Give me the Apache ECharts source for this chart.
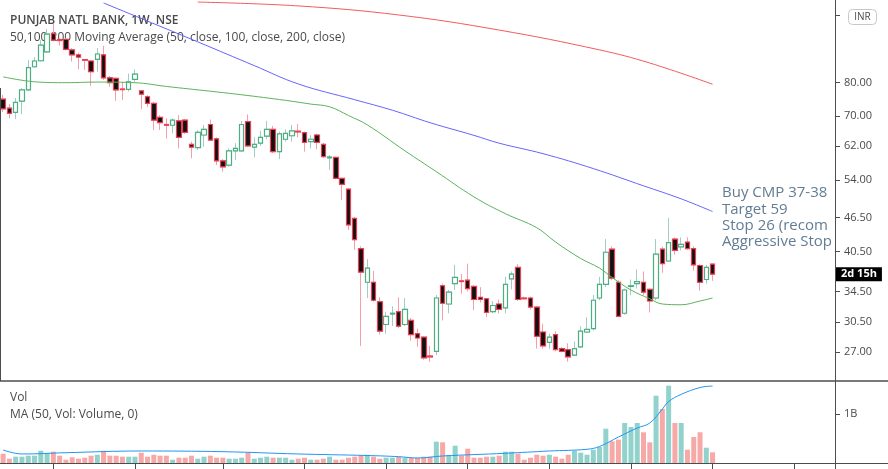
<!DOCTYPE html>
<html>
<head>
<meta charset="utf-8">
<title>PUNJAB NATL BANK, 1W, NSE</title>
<script src="https://cdn.jsdelivr.net/npm/echarts@6/dist/echarts.min.js"></script>
<style>
  html, body { margin: 0; padding: 0; background: #fff; }
  #chart { width: 888px; height: 469px; }
</style>
</head>
<body>
<div id="chart"></div>
<script>
// weekly bars, the first one is the week of 4 Feb 2019
const startWeek = '2019-02-04';
const totalSlots = 133; // bars plus the empty space on the right

// [open, close, low, high]
const candles = [
  [74.9,72.0,71.1,76.1],[72.2,70.7,69.3,73.4],[71.0,73.9,69.1,75.2],[74.3,77.7,70.5,78.3],[77.7,85.0,77.4,87.7],
  [85.3,87.3,85.0,88.7],[87.4,93.1,87.1,95.0],[90.6,97.3,90.2,99.3],[97.5,95.0,94.5,101.3],[95.2,94.8,92.9,95.8],
  [95.3,91.5,91.0,95.8],[91.3,89.5,87.1,92.0],[89.5,88.7,84.4,90.3],[87.8,87.6,84.2,88.0],[87.3,83.6,79.0,87.7],
  [87.9,89.8,83.6,92.0],[89.5,81.6,80.9,92.8],[81.6,80.0,78.7,82.2],[81.4,77.7,74.4,81.7],[78.0,77.8,74.6,80.3],
  [77.9,80.3,77.2,83.0],[81.1,82.8,80.3,84.4],[77.4,76.4,71.9,77.7],[75.6,73.6,72.5,76.1],[73.6,68.8,66.1,74.1],
  [69.6,68.1,66.1,70.2],[67.6,67.4,63.9,69.3],[67.4,68.8,65.2,69.3],[68.6,64.2,61.4,70.2],[68.8,65.5,65.1,69.1],
  [62.4,61.7,59.0,63.1],[61.6,65.5,61.0,66.1],[64.8,66.3,61.8,67.5],[67.6,63.5,63.3,69.0],[63.8,58.4,57.4,64.2],
  [58.4,57.0,55.9,58.8],[57.4,60.8,57.0,61.4],[60.8,61.4,58.6,62.7],[60.8,67.6,60.6,68.6],[68.4,62.0,61.7,70.4],
  [61.7,62.4,59.2,64.2],[62.7,64.2,62.0,65.9],[64.5,66.3,63.7,68.6],[66.3,60.6,60.2,67.2],[60.6,65.1,58.8,65.7],
  [63.7,65.2,63.1,66.3],[64.6,65.9,63.1,67.5],[65.8,65.6,64.2,67.7],[65.4,62.9,60.6,65.7],[63.1,63.7,61.4,64.8],
  [64.8,62.9,61.2,65.2],[62.4,59.4,59.1,62.8],[59.1,59.3,56.3,59.8],[59.2,54.4,54.2,59.4],[54.4,53.1,49.9,54.6],
  [52.1,45.1,44.2,52.3],[46.3,42.5,40.8,46.6],[41.0,37.3,27.7,41.4],[35.8,37.9,33.6,39.3],[35.8,33.3,33.1,37.5],
  [33.1,29.4,29.0,33.7],[30.2,31.2,29.1,31.8],[31.5,31.6,30.0,32.5],[31.8,30.0,29.8,33.7],[30.2,32.1,30.0,33.6],
  [30.7,29.0,28.3,31.0],[29.1,28.6,27.6,29.7],[28.7,26.4,26.2,28.8],[26.6,26.5,26.0,27.7],[27.1,33.6,26.7,34.0],
  [35.3,32.9,30.7,35.6],[32.8,34.4,31.6,34.7],[35.6,36.5,34.7,38.4],[36.0,35.9,34.2,37.0],[36.1,34.9,34.5,38.6],
  [35.2,33.4,32.0,35.4],[33.7,33.4,33.0,35.1],[33.5,31.7,31.1,33.6],[31.8,32.6,31.6,33.2],[32.8,32.1,31.6,33.4],
  [32.3,35.5,31.6,36.6],[36.3,37.0,34.8,37.4],[38.0,33.4,33.2,38.5],[33.6,33.5,33.4,33.8],[33.6,32.4,32.1,33.8],
  [32.4,28.8,27.4,32.5],[29.3,27.7,27.4,30.3],[28.1,28.7,27.4,29.1],[29.0,27.3,27.1,29.4],[27.4,27.1,27.0,27.6],
  [27.3,26.5,26.0,28.0],[26.7,27.4,26.6,28.2],[27.6,29.4,27.5,30.0],[29.3,29.6,29.2,31.1],[29.7,33.3,29.5,34.0],
  [33.6,35.5,33.3,36.6],[35.5,40.4,35.1,42.6],[40.9,36.4,36.1,41.4],[35.8,31.2,31.1,36.1],[31.6,34.7,31.4,34.9],
  [35.2,35.3,34.0,36.2],[35.6,35.9,34.9,37.7],[35.8,34.4,34.0,37.4],[34.8,33.2,31.7,34.9],[33.6,40.1,33.3,42.6],
  [40.9,38.6,37.2,41.3],[39.0,42.0,38.9,46.4],[42.6,40.7,40.0,42.9],[41.3,41.7,40.7,42.9],[42.1,41.0,40.8,42.9],
  [41.0,38.4,37.5,41.4],[38.3,35.8,34.6,38.5],[36.2,38.0,35.6,38.4],[38.5,37.0,36.0,38.6]
];

// weekly volume, millions of shares
const volumes = [
  190,88,129,129,149,149,251,204,231,149, 67,116,88,108,149,169,251,149,149,129,
  129,129,210,129,169,149,149,67,108,108, 149,88,129,149,108,108,88,88,108,210,
  88,108,129,108,108,108,67,88,108,67, 67,88,129,67,67,108,129,149,169,129,
  88,108,108,129,108,108,108,129,129,435, 422,163,353,149,292,108,108,129,129,149,
  231,231,190,67,108,169,149,169,129,88, 169,251,210,169,271,327,700,443,476,816,
  735,816,627,422,1373,1102,1578,816,816,271, 531,627,312,218
];

// moving averages: [bar index, value]
const ma50 = [[0,81.9],[5,80.3],[10,80.0],[15,80.2],[21,80.0],[26,78.8],[33,77.3],[38,76.2],[45,74.5],[49,73.4],
  [52,72.6],[55,70.1],[58,67.5],[64,60.8],[69,55.9],[75,50.5],[80,47.2],[85,44.6],[88,42.1],[92,39.4],[95,37.9],
  [97,36.5],[100,34.7],[103,33.5],[105,32.8],[108,32.7],[111,33.2],[113,33.6]];
const ma100 = [[16,110.3],[31,94.3],[40,85.7],[47,79.6],[56,74.7],[62,71.6],[68,68.1],[75,64.7],[79,62.7],
  [86,60.1],[94,56.6],[102,52.8],[108,50.1],[113,47.6]];
const ma200 = [[31,110.7],[47,109.0],[63,105.1],[79,98.9],[95,91.3],[103,86.6],[113,79.5]];
const volMa = [[0,265],[3,184],[10,210],[22,245],[35,231],[47,184],[58,153],[63,129],[66,102],[70,143],[80,198],
  [87,245],[93,280],[95,337],[98,530],[101,714],[103,816],[105,1100],[106,1255],[108,1400],[111,1540],[113,1570]];

const priceTicks = [105, 80, 70, 62, 54, 46.5, 40.5, 34.5, 30.5, 27];
const priceLabels = [80, 70, 62, 54, 46.5, 40.5, 34.5, 30.5, 27]; // the top one sits under the INR badge
const volTicks = [1000];
const noteLines = ['Buy CMP 37-38', 'Target 59', 'Stop 26 (recommended)', 'Aggressive Stop 30'];
const countdown = '2d 15h';

// price pane is logarithmic: plot ln(price) on a linear axis
const ln = Math.log;
const priceMin = 3.1842, priceMax = 4.7152;

const weeks = [];
let d = new Date(startWeek + 'T00:00:00Z');
for (let i = 0; i < totalSlots; i++) {
  weeks.push(d.toISOString().slice(0, 10));
  d = new Date(d.getTime() + 7 * 864e5);
}
// tick on the first bar of each quarter
const quarterTick = (i) => {
  if (i === 0) return false;
  const m = +weeks[i].slice(5, 7), pm = +weeks[i - 1].slice(5, 7);
  return m !== pm && (m - 1) % 3 === 0;
};

const logCandles = candles.map(c => c.map(ln));
const bodies = candles.map(([o, c]) => [o, c, Math.min(o, c), Math.max(o, c)].map(ln));
const volData = volumes.map((v, i) => ({
  value: v,
  itemStyle: { color: candles[i][1] >= candles[i][0] ? '#92d2cc' : '#f7a9a7' }
}));
const logPairs = arr => arr.map(([i, v]) => [i, ln(v)]);
const last = candles[candles.length - 1];

const axisGrey = '#4d4d4d';
const font = '"Open Sans", "DejaVu Sans", sans-serif';

const graphic = [
  { type: 'line', shape: { x1: 835.5, y1: 0, x2: 835.5, y2: 469 }, style: { stroke: axisGrey, lineWidth: 1 }, z: 50 },
  { type: 'line', shape: { x1: 0, y1: 381, x2: 888, y2: 381 }, style: { stroke: axisGrey, lineWidth: 1.5 }, z: 50 },
  { type: 'line', shape: { x1: 0, y1: 463.5, x2: 888, y2: 463.5 }, style: { stroke: axisGrey, lineWidth: 1 }, z: 50 },
  { type: 'line', shape: { x1: 0.5, y1: 88, x2: 0.5, y2: 381 }, style: { stroke: axisGrey, lineWidth: 1 }, z: 50 },
  { type: 'text', x: 10, y: 21, z: 1, style: { text: 'PUNJAB NATL BANK, 1W, NSE', font: '600 12px ' + font, fill: '#4a4a4a', verticalAlign: 'middle' } },
  { type: 'text', x: 10, y: 38, z: 1, style: { text: '50,100,200 Moving Average (50, close, 100, close, 200, close)', font: '12px ' + font, fill: '#4a4a4a', verticalAlign: 'middle' } },
  { type: 'text', x: 10, y: 398, z: 1, style: { text: 'Vol', font: '12px ' + font, fill: '#4a4a4a', verticalAlign: 'middle' } },
  { type: 'text', x: 10, y: 415, z: 1, style: { text: 'MA (50, Vol: Volume, 0)', font: '12px ' + font, fill: '#4a4a4a', verticalAlign: 'middle' } },
  { type: 'rect', shape: { x: 848.5, y: 9.5, width: 28, height: 15, r: 4 }, style: { fill: '#fff', stroke: '#c8c8c8' }, z: 60 },
  { type: 'text', x: 862.5, y: 17, z: 61, style: { text: 'INR', font: '10px ' + font, fill: '#4a4a4a', align: 'center', verticalAlign: 'middle' } }
];
noteLines.forEach((t, k) => {
  graphic.push({
    type: 'text', x: 722, y: 193 + k * 16.3, z: 40,
    style: { text: t, font: '15px ' + font, fill: '#627d93', verticalAlign: 'middle',
      width: 113, overflow: 'truncate', ellipsis: '' }
  });
});

const chart = echarts.init(document.getElementById('chart'));
chart.setOption({
  animation: false,
  backgroundColor: '#fff',
  grid: [
    { left: 0, right: 53, top: 0, height: 380 },
    { left: 0, right: 53, top: 382, height: 81 }
  ],
  xAxis: [
    { type: 'category', gridIndex: 0, data: weeks, boundaryGap: true,
      axisLine: { show: false }, axisTick: { show: false }, axisLabel: { show: false } },
    { type: 'category', gridIndex: 1, data: weeks, boundaryGap: true,
      axisLine: { show: true, lineStyle: { color: axisGrey } },
      axisTick: { show: true, interval: quarterTick, alignWithLabel: true, length: 6, lineStyle: { color: axisGrey } },
      axisLabel: { show: false } }
  ],
  yAxis: [
    { type: 'value', gridIndex: 0, position: 'right', min: priceMin, max: priceMax, scale: true,
      splitLine: { show: false },
      axisLine: { show: true, lineStyle: { color: axisGrey } },
      axisTick: { show: true, length: 5, customValues: priceTicks.map(ln), lineStyle: { color: axisGrey } },
      axisLabel: { customValues: priceLabels.map(ln), formatter: v => Math.exp(v).toFixed(2),
        color: '#4a4a4a', fontSize: 11, fontFamily: font, margin: 9 } },
    { type: 'value', gridIndex: 1, position: 'right', min: 0, max: 1653,
      splitLine: { show: false },
      axisLine: { show: true, lineStyle: { color: axisGrey } },
      axisTick: { show: true, length: 5, customValues: volTicks, lineStyle: { color: axisGrey } },
      axisLabel: { customValues: volTicks, formatter: v => (v / 1000) + 'B',
        color: '#4a4a4a', fontSize: 11, fontFamily: font, margin: 9 } }
  ],
  series: [
    { name: 'wicks', type: 'candlestick', xAxisIndex: 0, yAxisIndex: 0, data: logCandles, barWidth: 5, z: 2,
      itemStyle: { color: '#a3cbc8', color0: '#f5a0a8', borderColor: '#a3cbc8', borderColor0: '#f5a0a8', borderWidth: 1 } },
    { name: 'bodies', type: 'candlestick', xAxisIndex: 0, yAxisIndex: 0, data: bodies, barWidth: 5, z: 3,
      itemStyle: { color: '#ffffff', color0: '#111111', borderColor: '#4caf82', borderColor0: '#ef3f55', borderWidth: 1.2 } },
    { name: 'MA 50', type: 'line', xAxisIndex: 0, yAxisIndex: 0, data: logPairs(ma50), smooth: 0.4,
      showSymbol: false, z: 4, lineStyle: { color: '#5cb35c', width: 1 } },
    { name: 'MA 100', type: 'line', xAxisIndex: 0, yAxisIndex: 0, data: logPairs(ma100), smooth: 0.4,
      showSymbol: false, z: 4, lineStyle: { color: '#6464ff', width: 1 } },
    { name: 'MA 200', type: 'line', xAxisIndex: 0, yAxisIndex: 0, data: logPairs(ma200), smooth: 0.4,
      showSymbol: false, z: 4, lineStyle: { color: '#f45b5b', width: 1 } },
    // carries only the countdown label at the last close on the price scale
    { name: 'last', type: 'line', xAxisIndex: 0, yAxisIndex: 0, data: [], clip: false, z: 20,
      markLine: {
        symbol: ['none', 'none'], silent: true, animation: false,
        lineStyle: { color: 'rgba(0,0,0,0)', width: 0 },
        label: { show: true, position: 'end', distance: 1, formatter: countdown, color: '#ffffff', backgroundColor: '#000000',
          fontWeight: 'bold', fontSize: 11, fontFamily: font, padding: [2, 5, 1, 5], opacity: 1 },
        emphasis: { disabled: true },
        data: [{ yAxis: ln(last[1]) }]
      } },
    { name: 'Volume', type: 'bar', xAxisIndex: 1, yAxisIndex: 1, data: volData, barWidth: 5 },
    { name: 'Vol MA', type: 'line', xAxisIndex: 1, yAxisIndex: 1, data: volMa, smooth: 0.4,
      showSymbol: false, z: 4, lineStyle: { color: '#2196f3', width: 1 } }
  ],
  graphic: graphic
});
</script>
</body>
</html>
